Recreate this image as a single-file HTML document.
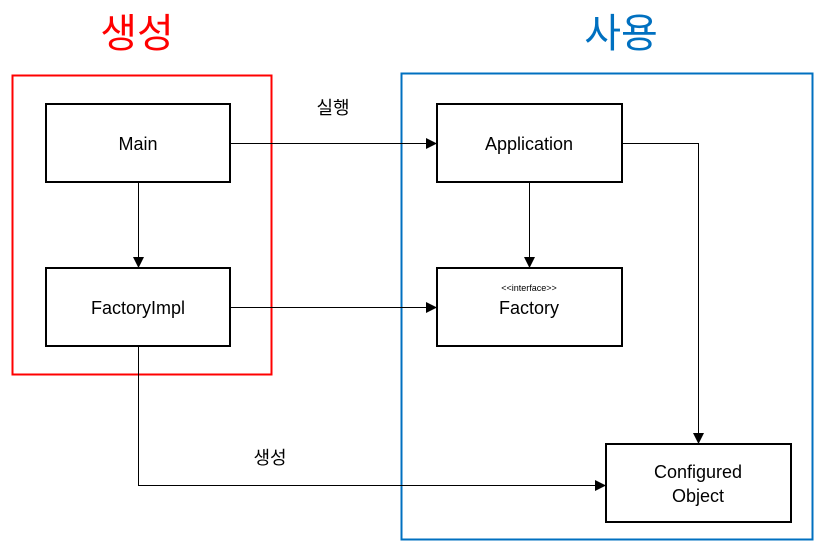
<!DOCTYPE html>
<html><head><meta charset="utf-8"><style>
html,body{margin:0;padding:0;background:#fff;}
svg text{font-family:"Liberation Sans","Noto Sans CJK KR",sans-serif;}
</style></head><body>
<svg width="823" height="549" viewBox="0 0 823 549" xmlns="http://www.w3.org/2000/svg">
<defs><marker id="a" markerWidth="12" markerHeight="12" refX="11" refY="6" orient="auto" markerUnits="userSpaceOnUse"><path d="M0,0.5 L11,6 L0,11.5 z" fill="#000"/></marker></defs>
<text x="137" y="47" font-size="40" fill="#ff0000" text-anchor="middle">생성</text>
<text x="621" y="47" font-size="40" fill="#0070c0" text-anchor="middle">사용</text>
<rect x="12.5" y="75.5" width="259" height="299" fill="none" stroke="#ff0000" stroke-width="2"/>
<rect x="401.5" y="73.5" width="411" height="466" fill="none" stroke="#0070c0" stroke-width="2"/>
<g fill="#fff" stroke="#000" stroke-width="2">
<rect x="46" y="104" width="184" height="78"/>
<rect x="46" y="268" width="184" height="78"/>
<rect x="437" y="104" width="185" height="78"/>
<rect x="437" y="268" width="185" height="78"/>
<rect x="606" y="444" width="185" height="78"/>
</g>
<g font-size="18" text-anchor="middle" fill="#000">
<text x="138" y="150">Main</text>
<text x="138" y="314">FactoryImpl</text>
<text x="529" y="150">Application</text>
<text x="529" y="314">Factory</text>
<text x="529" y="291" font-size="9">&lt;&lt;interface&gt;&gt;</text>
<text x="698" y="478">Configured</text>
<text x="698" y="502">Object</text>
<text x="333" y="114">실행</text>
<text x="270" y="464">생성</text>
</g>
<g stroke="#000" stroke-width="1" fill="none">
<path d="M230 143.5 H437" marker-end="url(#a)"/>
<path d="M138.5 182 V268" marker-end="url(#a)"/>
<path d="M230 307.5 H437" marker-end="url(#a)"/>
<path d="M529.5 182 V268" marker-end="url(#a)"/>
<path d="M622 143.5 H698.5 V444" marker-end="url(#a)"/>
<path d="M138.5 346 V485.5 H606" marker-end="url(#a)"/>
</g>
</svg>
</body></html>
